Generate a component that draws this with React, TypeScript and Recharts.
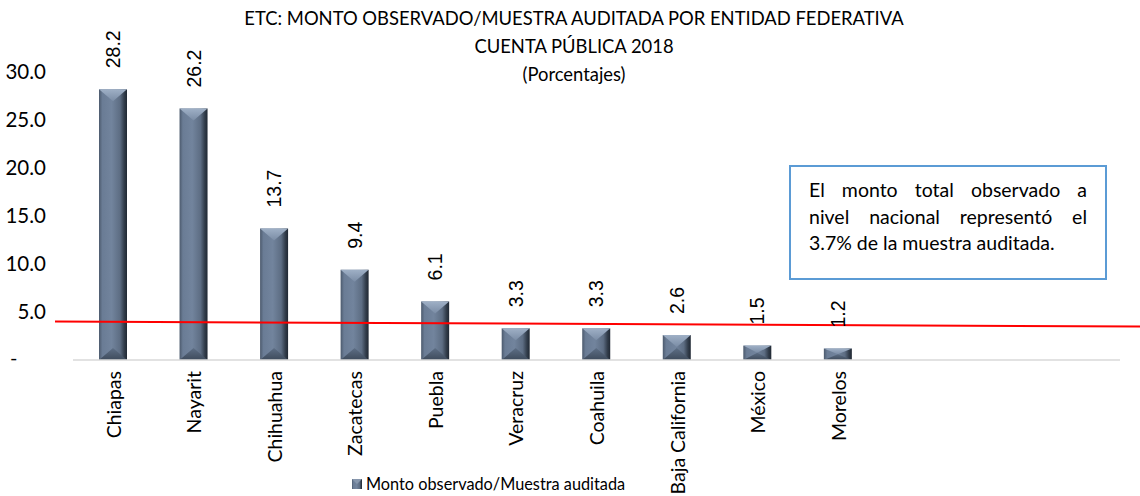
import React from 'react';
import {
  BarChart, Bar, XAxis, YAxis, ReferenceLine, Legend, LabelList,
} from 'recharts';

// states and the observed/audited ratio (%)
const states = [
  'Chiapas', 'Nayarit', 'Chihuahua', 'Zacatecas', 'Puebla', 'Veracruz',
  'Coahuila', 'Baja California', 'México', 'Morelos', '', '', '',
];
const ratio = [28.2, 26.2, 13.7, 9.4, 6.1, 3.3, 3.3, 2.6, 1.5, 1.2, null, null, null];
const yTicks = [0, 5, 10, 15, 20, 25, 30];
const nationalRatio = 3.7;
const titleLines = [
  'ETC: MONTO OBSERVADO/MUESTRA AUDITADA POR ENTIDAD FEDERATIVA',
  'CUENTA PÚBLICA 2018',
  '(Porcentajes)',
];
const noteLines = [
  'El monto total observado a',
  'nivel nacional representó el',
  '3.7% de la muestra auditada.',
];

const data = states.map((name, i) => ({ name, value: ratio[i] }));

const FONT = 'Lato, "Noto Sans", sans-serif';
const LABEL_FONT = '"Liberation Sans", Arial, sans-serif';

const BevelBar = (props: any) => {
  const { x, y, width, height } = props;
  if (!height || height <= 0) return null;
  const d = Math.min(12, height / 2);
  return (
    <g>
      <rect x={x} y={y} width={width} height={height} fill="url(#barBody)" />
      <polygon points={`${x},${y} ${x + width},${y} ${x + width / 2},${y + d}`} fill="url(#barTop)" />
      <polygon
        points={`${x},${y + height} ${x + width},${y + height} ${x + width / 2},${y + height - d}`}
        fill="url(#barBottom)"
      />
    </g>
  );
};

const YTick = ({ x, y, payload }: any) => (
  payload.value === 0
    ? <text x={10} y={y} dy={5} fontSize={20} fontFamily={FONT} fill="#000">-</text>
    : <text x={x - 19} y={y} dy={7} textAnchor="end" fontSize={20.5} fontFamily={FONT} fill="#000">
        {payload.value.toFixed(1)}
      </text>
);

const XTick = ({ x, y, payload }: any) => (
  <text
    x={x} y={y + 3} transform={`rotate(-90, ${x}, ${y + 3})`}
    textAnchor="end" dominantBaseline="central"
    fontSize={19.5} fontFamily={FONT} fill="#000"
  >
    {payload.value}
  </text>
);

const TopLabel = ({ x, y, width, value }: any) => {
  if (value == null) return null;
  const cx = x + width / 2;
  const ly = y - 21;
  return (
    <text
      x={cx} y={ly} transform={`rotate(-90, ${cx}, ${ly})`}
      dominantBaseline="central" fontSize={19.5} fontFamily={LABEL_FONT} fill="#000"
    >
      {value.toFixed(1)}
    </text>
  );
};

const LegendContent = () => (
  <div style={{ display: 'flex', alignItems: 'center', fontFamily: FONT, fontSize: 16.3, color: '#000' }}>
    <svg width={10} height={10} style={{ marginRight: 4 }}>
      <rect width={10} height={10} fill="url(#barBody)" />
      <polygon points="0,0 10,0 5,5" fill="#8797ad" />
    </svg>
    Monto observado/Muestra auditada
  </div>
);

export default function App() {
  return (
    <div style={{ position: 'absolute', left: 0, top: 0, width: 1140, height: 496, background: '#fff' }}>
      <div style={{
        position: 'absolute', left: 0, top: 4, width: 1148, textAlign: 'center',
        fontFamily: FONT, fontSize: 18.4, lineHeight: '28px', color: '#000',
      }}>
        {titleLines.map((t, i) => <div key={i}>{t}</div>)}
      </div>
      <BarChart width={1140} height={496} data={data} barSize={28}
        margin={{ top: 72, right: 20, left: 0, bottom: 0 }}>
        <defs>
          <linearGradient id="barBody" x1="0" y1="0" x2="1" y2="0">
            <stop offset="0%" stopColor="#4c5a6d" />
            <stop offset="12%" stopColor="#6a7c95" />
            <stop offset="45%" stopColor="#72849d" />
            <stop offset="75%" stopColor="#5d6d83" />
            <stop offset="90%" stopColor="#323d4b" />
            <stop offset="100%" stopColor="#202833" />
          </linearGradient>
          <linearGradient id="barTop" x1="0" y1="0" x2="0" y2="1">
            <stop offset="0%" stopColor="#9fb0c6" />
            <stop offset="100%" stopColor="#7a8ca5" />
          </linearGradient>
          <linearGradient id="barBottom" x1="0" y1="0" x2="0" y2="1">
            <stop offset="0%" stopColor="#5d6e85" />
            <stop offset="100%" stopColor="#3e4b5c" />
          </linearGradient>
        </defs>
        <XAxis dataKey="name" tick={<XTick />} tickLine={false}
          axisLine={{ stroke: '#d9d9d9', strokeWidth: 1.5 }} height={114} interval={0} />
        <YAxis type="number" domain={[0, 30]} ticks={yTicks} tick={<YTick />}
          axisLine={false} tickLine={false} width={73} />
        <Legend verticalAlign="bottom" content={<LegendContent />}
          wrapperStyle={{ left: 352, bottom: 0, width: 'auto', height: 22 }} />
        <Bar dataKey="value" name="Monto observado/Muestra auditada" shape={<BevelBar />} isAnimationActive={false}>
          <LabelList dataKey="value" content={<TopLabel />} />
        </Bar>
        <ReferenceLine y={nationalRatio} shape={(p: any) => (
          <line x1={p.x1 - 18} y1={p.y1 - 3} x2={p.x2 + 20} y2={p.y2 + 2} stroke="#ff0000" strokeWidth={2} />
        )} />
      </BarChart>
      <div style={{
        position: 'absolute', left: 789, top: 165, width: 318, height: 115, boxSizing: 'border-box',
        border: '2px solid #5b9bd5', padding: '10px 18px 0 18px',
        fontFamily: FONT, fontSize: 19.5, lineHeight: '26.5px', color: '#000',
      }}>
        {noteLines.map((t, i) => (
          <div key={i} style={{ textAlign: 'justify', textAlignLast: i < noteLines.length - 1 ? 'justify' : 'left' }}>{t}</div>
        ))}
      </div>
    </div>
  );
}
